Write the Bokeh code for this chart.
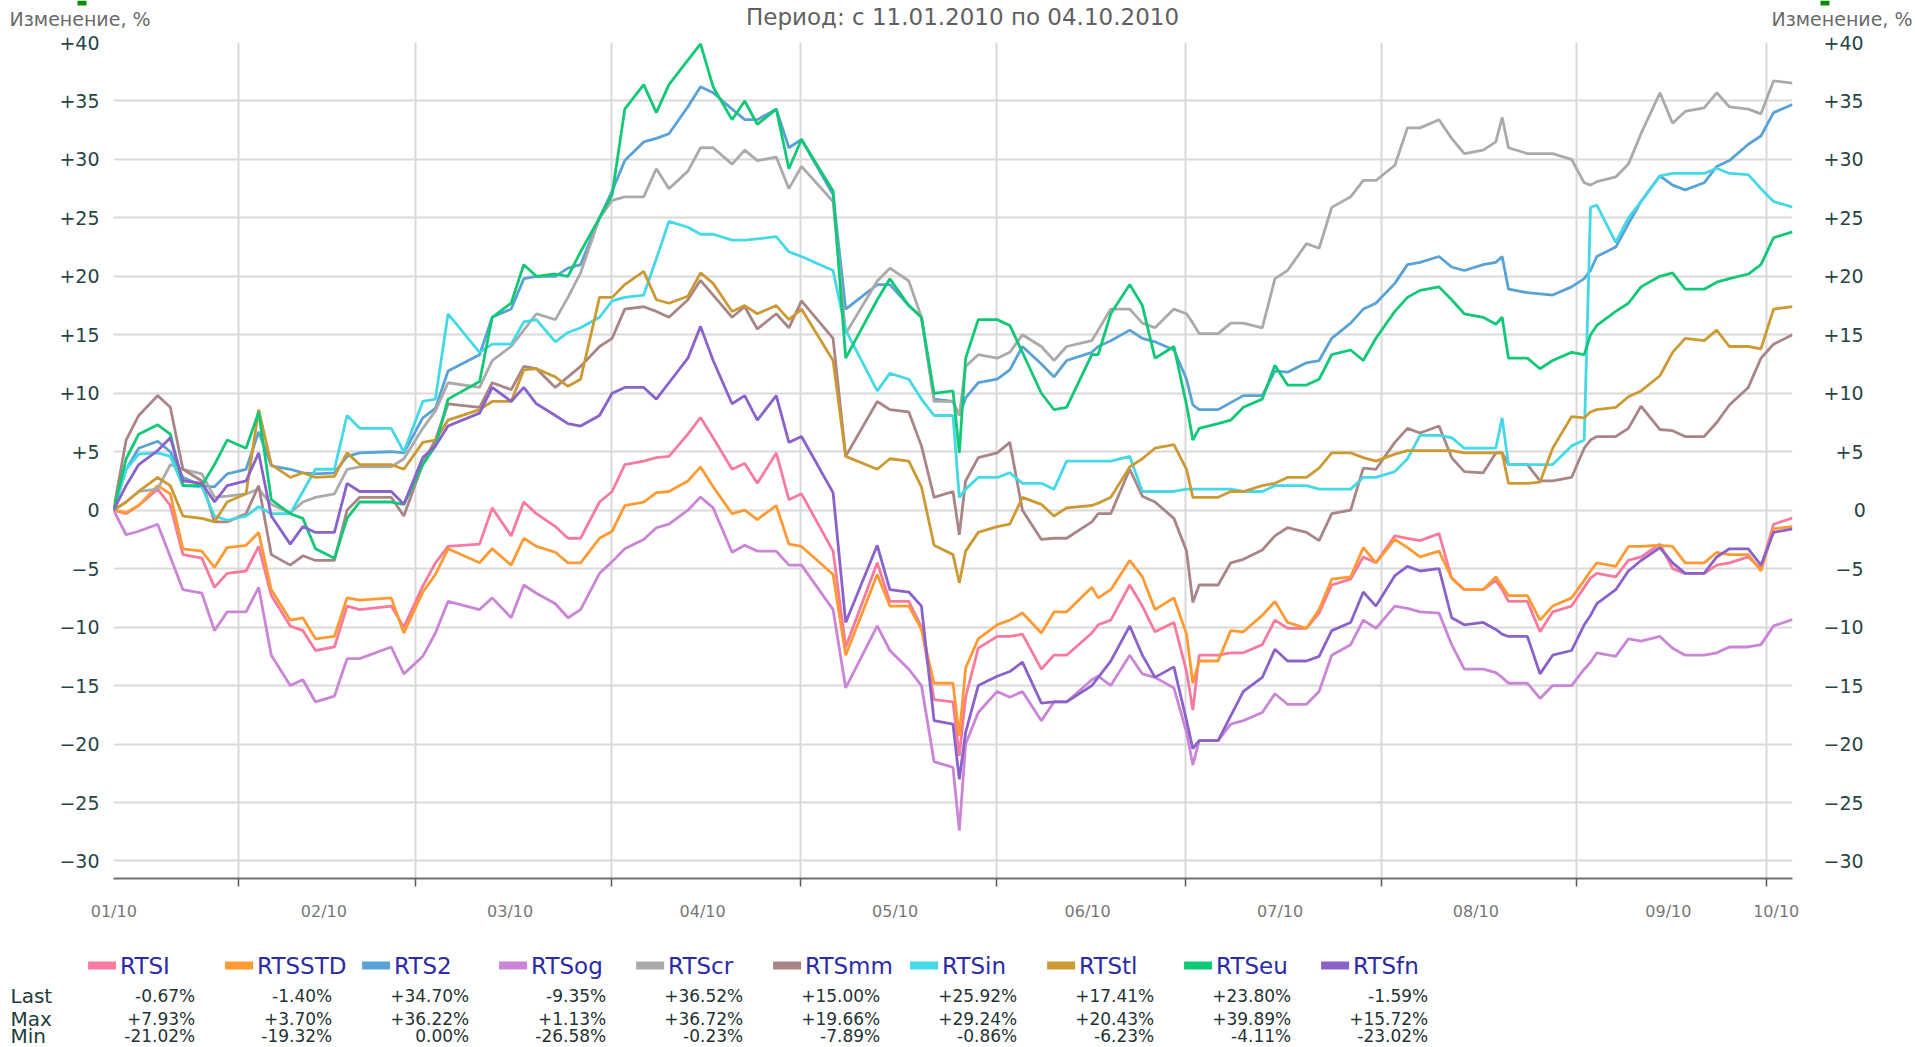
import datetime as dt
from bokeh.plotting import figure
from bokeh.models import FixedTicker, LinearAxis, Range1d
from bokeh.layouts import column
from bokeh.core.properties import value
from bokeh.embed import file_html
from bokeh.resources import INLINE

YEAR = 2010
PERIOD_TEXT = "Период: с 11.01.2010 по 04.10.2010"
Y_TITLE = "Изменение, %"

# trading dates (month-day) at which the series are read
dates = [
    "01-11", "01-13", "01-15", "01-18", "01-20", "01-22", "01-25", "01-27", "01-29",
    "02-01", "02-03", "02-05", "02-08", "02-10", "02-12", "02-15", "02-17", "02-19", "02-24", "02-26",
    "03-01", "03-03", "03-05", "03-10", "03-12", "03-15", "03-17", "03-19", "03-22", "03-24", "03-26", "03-29", "03-31",
    "04-02", "04-05", "04-07", "04-09", "04-12", "04-14", "04-16", "04-19", "04-21", "04-23", "04-26", "04-28", "04-30",
    "05-05", "05-07", "05-12", "05-14", "05-17", "05-19", "05-21", "05-24", "05-25", "05-26", "05-28", "05-31",
    "06-02", "06-04", "06-07", "06-09", "06-11", "06-15", "06-16", "06-18", "06-21", "06-23", "06-25", "06-28", "06-30",
    "07-01", "07-02", "07-05", "07-07", "07-09", "07-12", "07-14", "07-16", "07-19", "07-21", "07-23", "07-26", "07-28", "07-30",
    "08-02", "08-04", "08-06", "08-09", "08-11", "08-13", "08-16", "08-18", "08-19", "08-20", "08-23", "08-25", "08-27", "08-30",
    "09-01", "09-02", "09-03", "09-06", "09-08", "09-10", "09-13", "09-15", "09-17", "09-20", "09-22", "09-24", "09-27", "09-29",
    "10-01", "10-04",
]

series_names = ["RTSI", "RTSSTD", "RTS2", "RTSog", "RTScr", "RTSmm", "RTSin", "RTStl", "RTSeu", "RTSfn"]
series_colors = ["#F87A9E", "#FF9A33", "#59A2D6", "#CB85D6", "#AAAAAA",
                 "#A98585", "#43D9E6", "#CC9A33", "#11C877", "#8A62C9"]

RTSI = [0.0, -0.3, 0.4, 1.8, 0.4, -3.8, -4.1, -6.6, -5.4,
        -5.2, -3.1, -7.3, -9.9, -10.3, -12.0, -11.7, -8.2, -8.5, -8.2, -10.0,
        -6.5, -4.5, -3.1, -2.9, 0.2, -2.2, 0.7, -0.3, -1.4, -2.4, -2.4, 0.7, 1.6,
        3.9, 4.2, 4.5, 4.6, 6.5, 7.93, 6.2, 3.5, 4.0, 2.3, 4.9, 0.9, 1.4,
        -3.5, -11.7, -4.5, -7.8, -7.8, -10.0, -16.2, -16.4, -21.02, -16.0, -11.8, -10.8,
        -10.8, -10.6, -13.6, -12.4, -12.4, -10.5, -9.8, -9.4, -6.4, -8.2, -10.4, -9.6, -13.8,
        -17.1, -12.4, -12.4, -12.2, -12.2, -11.5, -9.4, -10.1, -10.1, -8.8, -6.4, -5.9, -4.0, -4.5,
        -2.2, -2.4, -2.6, -2.0, -5.8, -6.8, -6.8, -6.0, -6.8, -7.8, -7.8, -10.4, -8.7, -8.2,
        -6.6, -5.8, -5.4, -5.7, -4.3, -4.0, -2.9, -5.0, -5.4, -5.4, -4.7, -4.5, -4.0, -5.0,
        -1.2, -0.67]
RTSSTD = [0.0, -0.2, 0.4, 2.1, 1.4, -3.3, -3.5, -4.9, -3.2,
          -3.0, -1.9, -6.8, -9.4, -9.2, -11.0, -10.8, -7.5, -7.7, -7.5, -10.5,
          -7.0, -5.5, -3.3, -4.5, -3.3, -4.7, -2.4, -3.1, -3.6, -4.5, -4.5, -2.4, -1.8,
          0.4, 0.7, 1.5, 1.6, 2.5, 3.70, 2.0, -0.3, 0.0, -0.8, 0.4, -2.9, -3.1,
          -5.5, -12.4, -5.5, -8.2, -8.2, -10.2, -14.8, -14.8, -19.32, -13.5, -11.0, -9.8,
          -9.4, -8.8, -10.5, -8.7, -8.7, -6.6, -7.5, -6.8, -4.3, -5.7, -8.5, -7.5, -10.6,
          -14.8, -12.9, -12.9, -10.3, -10.4, -9.0, -7.8, -9.6, -10.1, -8.5, -5.9, -5.7, -3.2, -4.5,
          -2.5, -3.2, -4.0, -3.5, -5.8, -6.8, -6.8, -5.7, -6.5, -7.3, -7.3, -9.4, -8.2, -7.5,
          -6.0, -5.2, -4.5, -4.8, -3.1, -3.1, -3.0, -3.1, -4.5, -4.5, -3.6, -3.8, -3.8, -5.2,
          -1.6, -1.40]
RTS2 = [0.0, 3.5, 5.3, 5.9, 5.0, 2.8, 2.1, 2.0, 3.1,
        3.5, 6.7, 3.8, 3.5, 3.2, 3.1, 3.2, 4.6, 4.9, 5.0, 4.9,
        7.9, 8.7, 11.9, 13.3, 16.5, 17.2, 19.8, 20.0, 20.0, 20.7, 21.0, 25.0, 27.3,
        29.9, 31.5, 31.8, 32.2, 34.5, 36.22, 35.7, 34.3, 33.4, 33.4, 34.3, 31.0, 31.7,
        27.0, 17.2, 19.3, 19.3, 17.5, 16.5, 9.5, 9.3, 8.1, 9.6, 10.9, 11.2,
        12.0, 14.0, 12.5, 11.4, 12.8, 13.5, 14.0, 14.5, 15.4, 14.7, 14.4, 13.7, 11.2,
        9.0, 8.6, 8.6, 9.2, 9.8, 9.8, 11.9, 11.8, 12.6, 12.8, 14.7, 16.0, 17.2, 17.7,
        19.4, 21.0, 21.2, 21.7, 20.8, 20.5, 21.0, 21.2, 21.7, 18.9, 18.6, 18.5, 18.4, 19.1,
        19.8, 20.5, 21.7, 22.5, 24.5, 26.4, 28.6, 27.8, 27.4, 28.0, 29.4, 29.9, 31.3, 32.0,
        34.0, 34.70]
RTSog = [0.0, -2.1, -1.8, -1.2, -4.0, -6.8, -7.1, -10.3, -8.7,
         -8.7, -6.6, -12.4, -15.0, -14.5, -16.4, -15.9, -12.7, -12.7, -11.7, -14.0,
         -12.5, -10.5, -7.8, -8.5, -7.5, -9.2, -6.4, -7.1, -8.0, -9.2, -8.5, -5.4, -4.4,
         -3.3, -2.5, -1.5, -1.2, 0.0, 1.13, 0.2, -3.6, -3.0, -3.5, -3.5, -4.7, -4.7,
         -8.5, -15.2, -9.9, -12.0, -13.6, -15.0, -21.5, -22.0, -27.4, -20.0, -17.3, -15.5,
         -16.0, -15.5, -18.0, -16.4, -16.4, -14.5, -14.2, -15.0, -12.4, -14.0, -14.3, -15.2, -19.0,
         -21.8, -19.7, -19.7, -18.3, -18.0, -17.3, -15.7, -16.6, -16.6, -15.5, -12.4, -11.5, -9.4, -10.1,
         -8.2, -8.4, -8.7, -8.8, -11.5, -13.6, -13.6, -13.9, -14.3, -14.8, -14.8, -16.1, -15.0, -15.0,
         -13.6, -13.0, -12.2, -12.5, -11.0, -11.2, -10.8, -11.8, -12.4, -12.4, -12.2, -11.7, -11.7, -11.5,
         -9.9, -9.35]
RTScr = [0.0, 0.7, 1.6, 1.8, 3.9, 3.5, 3.1, 1.1, 1.2,
         1.4, 1.8, 0.5, -0.23, 0.7, 1.1, 1.4, 3.5, 3.7, 3.7, 4.4,
         7.0, 8.5, 10.9, 10.5, 12.8, 14.0, 15.4, 16.8, 16.3, 18.2, 20.3, 25.0, 26.5,
         26.8, 26.8, 29.2, 27.5, 29.0, 31.0, 31.0, 29.6, 30.8, 29.9, 30.2, 27.5, 29.4,
         26.4, 15.1, 19.6, 20.7, 19.6, 16.5, 9.3, 9.3, 8.1, 12.3, 13.3, 13.0,
         13.5, 15.0, 14.0, 12.8, 14.0, 14.5, 15.4, 17.2, 17.2, 16.0, 15.6, 17.2, 16.8,
         16.0, 15.1, 15.1, 16.0, 16.0, 15.6, 19.8, 20.5, 22.8, 22.4, 25.9, 26.8, 28.2, 28.2,
         29.5, 32.7, 32.7, 33.4, 31.8, 30.5, 30.8, 31.5, 33.6, 31.0, 30.5, 30.5, 30.5, 30.0,
         28.0, 27.8, 28.1, 28.5, 29.6, 32.2, 35.7, 33.1, 34.1, 34.4, 35.7, 34.5, 34.3, 33.9,
         36.72, 36.52]
RTSmm = [0.0, 6.0, 8.1, 9.8, 8.8, 3.5, 2.5, -1.0, -1.0,
         -0.3, 2.1, -3.8, -4.7, -3.9, -4.3, -4.3, 0.0, 1.1, 1.1, -0.5,
         4.0, 6.0, 9.1, 8.8, 10.9, 10.3, 12.3, 12.1, 10.5, 11.4, 12.3, 14.0, 14.7,
         17.2, 17.4, 17.0, 16.5, 18.0, 19.66, 18.4, 16.5, 17.4, 15.5, 16.8, 15.6, 17.9,
         14.7, 4.6, 9.3, 8.6, 8.4, 5.5, 1.1, 1.6, -2.1, 2.5, 4.5, 4.9,
         5.8, 0.0, -2.5, -2.4, -2.4, -1.0, -0.3, -0.3, 3.5, 1.2, 0.7, -0.7, -3.5,
         -7.89, -6.4, -6.4, -4.5, -4.2, -3.4, -2.2, -1.5, -1.9, -2.6, -0.3, 0.0, 3.6, 3.5,
         5.8, 7.0, 6.6, 7.2, 4.5, 3.3, 3.2, 4.9, 4.9, 3.9, 3.9, 2.5, 2.5, 2.8,
         5.3, 6.0, 6.3, 6.3, 7.0, 8.9, 6.9, 6.8, 6.3, 6.3, 7.5, 9.0, 10.5, 13.0,
         14.2, 15.00]
RTSin = [0.0, 3.5, 4.8, 4.9, 4.6, 2.1, 2.0, -0.5, -0.86,
         -0.5, 0.3, -0.3, -0.3, 1.6, 3.5, 3.5, 8.1, 7.0, 7.0, 5.0,
         9.3, 9.5, 16.8, 13.5, 14.2, 14.2, 16.1, 16.3, 14.4, 15.2, 15.6, 16.5, 17.9,
         18.2, 18.4, 21.5, 24.7, 24.2, 23.6, 23.6, 23.1, 23.1, 23.2, 23.4, 22.1, 21.7,
         20.5, 15.4, 10.2, 11.7, 11.2, 9.5, 8.1, 8.1, 1.1, 1.8, 2.8, 2.8,
         3.2, 2.3, 2.3, 1.8, 4.2, 4.2, 4.2, 4.2, 4.6, 1.6, 1.6, 1.6, 1.8,
         1.8, 1.8, 1.8, 1.8, 1.6, 1.6, 2.1, 2.1, 2.1, 1.8, 1.8, 1.8, 2.8, 2.8,
         3.3, 4.4, 6.4, 6.4, 6.2, 5.3, 5.3, 5.3, 7.9, 3.9, 3.9, 3.9, 3.9, 5.5,
         6.0, 25.9, 26.1, 22.9, 25.0, 26.4, 28.6, 28.8, 28.8, 28.8, 29.24, 28.8, 28.7, 27.5,
         26.4, 25.92]
RTStl = [0.0, 0.7, 1.6, 2.8, 2.1, -0.5, -0.7, -1.0, 0.7,
         1.4, 8.6, 3.9, 2.8, 3.2, 2.8, 2.9, 4.9, 3.9, 3.9, 3.5,
         5.8, 6.0, 7.7, 8.6, 9.3, 9.3, 12.0, 12.1, 11.4, 10.6, 11.2, 18.2, 18.2,
         19.3, 20.43, 18.0, 17.7, 18.3, 20.3, 19.4, 17.0, 17.5, 16.8, 17.5, 16.3, 17.2,
         12.8, 4.6, 3.5, 4.4, 4.2, 2.0, -3.0, -3.8, -6.23, -3.5, -1.9, -1.4,
         -1.2, 1.1, 0.5, -0.5, 0.2, 0.4, 0.6, 1.1, 3.7, 4.4, 5.3, 5.6, 3.5,
         1.1, 1.1, 1.1, 1.6, 1.6, 2.1, 2.3, 2.8, 2.8, 3.6, 4.9, 4.9, 4.5, 4.2,
         4.8, 5.1, 5.1, 5.1, 5.1, 4.9, 4.9, 4.9, 4.9, 2.3, 2.3, 2.4, 5.3, 8.0,
         7.9, 8.4, 8.6, 8.8, 9.7, 10.2, 11.5, 13.5, 14.7, 14.5, 15.4, 14.0, 14.0, 13.8,
         17.2, 17.41]
RTSeu = [0.0, 4.4, 6.5, 7.3, 6.5, 2.1, 2.1, 3.9, 6.0,
         5.3, 8.4, 0.9, -0.3, -0.7, -3.3, -4.11, -0.7, 0.7, 0.7, 0.5,
         3.9, 5.5, 9.5, 11.0, 16.5, 17.7, 21.0, 20.0, 20.2, 20.0, 22.1, 25.0, 27.0,
         34.3, 36.4, 34.0, 36.4, 38.5, 39.89, 36.2, 33.4, 35.0, 33.0, 34.3, 29.2, 31.7,
         27.3, 13.0, 18.0, 19.8, 17.5, 16.5, 10.0, 10.2, 4.9, 13.0, 16.3, 16.3,
         15.8, 13.5, 10.0, 8.6, 8.8, 13.3, 13.3, 16.8, 19.3, 17.5, 13.0, 14.0, 9.0,
         6.0, 7.0, 7.4, 7.7, 8.8, 9.5, 12.4, 10.7, 10.7, 11.2, 13.3, 13.7, 12.8, 14.7,
         17.0, 18.2, 18.8, 19.1, 18.0, 16.8, 16.5, 15.9, 16.5, 13.0, 13.0, 12.1, 12.8, 13.5,
         13.3, 15.0, 15.8, 17.0, 17.7, 19.1, 20.0, 20.3, 18.9, 18.9, 19.5, 19.8, 20.2, 21.0,
         23.3, 23.80]
RTSfn = [0.0, 2.1, 3.9, 5.1, 6.2, 2.5, 2.3, 0.7, 2.1,
         2.5, 4.9, -0.5, -2.9, -1.4, -1.9, -1.9, 2.3, 1.6, 1.6, 0.5,
         4.5, 5.5, 7.2, 8.3, 10.5, 9.3, 10.5, 9.1, 8.1, 7.4, 7.2, 8.1, 10.0,
         10.5, 10.5, 9.5, 10.9, 13.0, 15.72, 12.8, 9.1, 9.8, 7.7, 9.8, 5.8, 6.3,
         1.5, -9.6, -3.0, -6.8, -7.0, -8.2, -18.0, -18.3, -23.02, -19.0, -15.0, -14.2,
         -13.8, -13.0, -16.5, -16.4, -16.4, -15.0, -14.3, -12.9, -9.9, -12.4, -14.3, -13.4, -18.0,
         -20.4, -19.7, -19.7, -17.6, -15.5, -14.3, -11.9, -12.9, -12.9, -12.5, -10.3, -9.6, -7.0, -8.2,
         -5.6, -4.8, -5.2, -5.0, -9.2, -9.8, -9.6, -10.2, -10.6, -10.8, -10.8, -14.0, -12.4, -12.0,
         -9.8, -9.0, -8.0, -6.8, -5.2, -4.3, -3.2, -4.5, -5.4, -5.4, -4.0, -3.3, -3.3, -4.7,
         -1.9, -1.59]

series_values = [RTSI, RTSSTD, RTS2, RTSog, RTScr, RTSmm, RTSin, RTStl, RTSeu, RTSfn]

row_titles = ["Last", "Max", "Min"]
last_text = ["-0.67%", "-1.40%", "+34.70%", "-9.35%", "+36.52%", "+15.00%", "+25.92%", "+17.41%", "+23.80%", "-1.59%"]
max_text = ["+7.93%", "+3.70%", "+36.22%", "+1.13%", "+36.72%", "+19.66%", "+29.24%", "+20.43%", "+39.89%", "+15.72%"]
min_text = ["-21.02%", "-19.32%", "0.00%", "-26.58%", "-0.23%", "-7.89%", "-0.86%", "-6.23%", "-4.11%", "-23.02%"]

month_labels = ["01/10", "02/10", "03/10", "04/10", "05/10", "06/10", "07/10", "08/10", "09/10", "10/10"]
y_ticks = [-30, -25, -20, -15, -10, -5, 0, 5, 10, 15, 20, 25, 30, 35, 40]

# ---------------------------------------------------------------- helpers
SHIFT = 1.17  # plotting offset of a trading day (days)
FIG_SP = "\u2007"  # figure space (digit width), used to right-align the right-hand labels


def doy(md):
    m, d = (int(v) for v in md.split("-"))
    return (dt.date(YEAR, m, d) - dt.date(YEAR, 1, 1)).days


def xpos(md):
    return doy(md) + SHIFT


def ytick_text(v):
    if v > 0:
        return "+%d" % v
    if v < 0:
        return "\u2212%d" % (-v)
    return "0"


def ytick_text_padded(v):
    t = ytick_text(v)
    return FIG_SP * (3 - len(t)) + ("\u2008" if v == 0 else "") + t


def no_frame_align(fig):
    try:
        fig.frame_align = False
    except Exception:
        pass


xs = [xpos(d) for d in dates]
x0, x1 = xs[0], xs[-1]
month_starts = [(dt.date(YEAR, m, 1) - dt.date(YEAR, 1, 1)).days for m in range(2, 11)]
bounds = [x0] + month_starts + [x1]
label_pos = [x0 + 0.05] + [(a + b) / 2 - 0.5 for a, b in zip(bounds[1:-1], bounds[2:])]

FONT = "DejaVu Sans"
GRID = "#d9d9d9"
TOTAL_W = 1912

# ---------------------------------------------------------------- header strip
HH = 30
h = figure(width=TOTAL_W, height=HH, x_range=Range1d(0, TOTAL_W), y_range=Range1d(HH, 0),
           min_border=0, x_axis_location=None, y_axis_location=None,
           output_backend="svg", toolbar_location=None,
           outline_line_color=None, background_fill_color="white", border_fill_color="white")
no_frame_align(h)
h.grid.visible = False
h.quad(left=[77, 1820], right=[86, 1829], top=[0, 0], bottom=[5, 5], fill_color="#0b8a0b", line_color=None)
h.text(x=[962], y=[16.5], text=[PERIOD_TEXT], text_align="center", text_baseline="middle",
       text_font=value(FONT), text_font_size="23px", text_color="#5f5f5f")
h.text(x=[9, TOTAL_W], y=[18, 18], text=[Y_TITLE, Y_TITLE], text_align=["left", "right"],
       text_baseline="middle", text_font=value(FONT), text_font_size="19px", text_color="#6a6a6a")

# ---------------------------------------------------------------- main chart
p = figure(frame_width=1679, frame_height=836,
           min_border_left=113, min_border_right=TOTAL_W - 113 - 1679, min_border_top=12, min_border_bottom=62,
           x_range=Range1d(x0, x1), y_range=Range1d(-31.5, 40),
           output_backend="svg", toolbar_location=None,
           outline_line_color=None, background_fill_color="white", border_fill_color="white")
no_frame_align(p)

p.xaxis.ticker = FixedTicker(ticks=label_pos, minor_ticks=month_starts)
p.xaxis.major_label_overrides = {t: l for t, l in zip(label_pos, month_labels)}
p.xaxis.major_tick_out = 0
p.xaxis.major_tick_in = 0
p.xaxis.minor_tick_out = 8
p.xaxis.minor_tick_in = 0
p.xaxis.minor_tick_line_color = "#5a5a5a"
p.xaxis.minor_tick_line_width = 1.5
p.xaxis.axis_line_color = "#707070"
p.xaxis.axis_line_width = 2
p.xaxis.major_label_standoff = 15
p.xaxis.major_label_text_font = FONT
p.xaxis.major_label_text_font_size = "16px"
p.xaxis.major_label_text_color = "#777777"

p.yaxis.ticker = FixedTicker(ticks=y_ticks)
p.yaxis.major_label_overrides = {t: ytick_text(t) for t in y_ticks}
p.yaxis.axis_line_color = None
p.yaxis.major_tick_line_color = None
p.yaxis.minor_tick_line_color = None
p.yaxis.major_tick_out = 0
p.yaxis.major_tick_in = 0
p.yaxis.minor_tick_out = 0
p.yaxis.major_label_standoff = 14
p.yaxis.major_label_text_font = FONT
p.yaxis.major_label_text_font_size = "19px"
p.yaxis.major_label_text_color = "#274545"

ry = LinearAxis(ticker=FixedTicker(ticks=y_ticks),
                major_label_overrides={t: ytick_text_padded(t) for t in y_ticks})
ry.axis_line_color = None
ry.major_tick_line_color = None
ry.minor_tick_line_color = None
ry.major_tick_out = 0
ry.major_tick_in = 0
ry.minor_tick_out = 0
ry.major_label_standoff = 31
ry.major_label_text_font = FONT
ry.major_label_text_font_size = "19px"
ry.major_label_text_color = "#274545"
p.add_layout(ry, "right")

p.xgrid.ticker = FixedTicker(ticks=month_starts)
p.xgrid.grid_line_color = GRID
p.xgrid.grid_line_width = 2
p.ygrid.grid_line_color = GRID
p.ygrid.grid_line_width = 2

for name, color, vals in zip(series_names, series_colors, series_values):
    p.line(xs, vals, line_color=color, line_width=2.8)

# ---------------------------------------------------------------- legend / statistics table
LH = 106
q = figure(width=TOTAL_W, height=LH, x_range=Range1d(0, TOTAL_W), y_range=Range1d(LH, 0),
           min_border=0, x_axis_location=None, y_axis_location=None,
           output_backend="svg", toolbar_location=None,
           outline_line_color=None, background_fill_color="white", border_fill_color="white")
no_frame_align(q)
q.grid.visible = False

col_step = 137
sw_left = [87.6 + col_step * i for i in range(len(series_names))]
q.quad(left=sw_left, right=[l + 28 for l in sw_left], top=[21] * len(sw_left), bottom=[29] * len(sw_left),
       fill_color=series_colors, line_color=None)
q.text(x=[l + 32 for l in sw_left], y=[25] * len(sw_left), text=series_names,
       text_font=value(FONT), text_font_size="23px", text_color="#2b2ba8", text_baseline="middle")

row_y = [55, 78, 95]
q.text(x=[10] * 3, y=row_y, text=row_titles, text_font=value(FONT), text_font_size="20px",
       text_color="#1f3c3c", text_baseline="middle")
val_right = [194.7 + col_step * i for i in range(len(series_names))]
for yy, texts in zip(row_y, [last_text, max_text, min_text]):
    q.text(x=val_right, y=[yy] * len(texts), text=texts, text_align="right", text_baseline="middle",
           text_font=value(FONT), text_font_size="17px", text_color="#1f3333")

layout = column(h, p, q, spacing=0)
open("out.html", "w").write(file_html(layout, INLINE))
